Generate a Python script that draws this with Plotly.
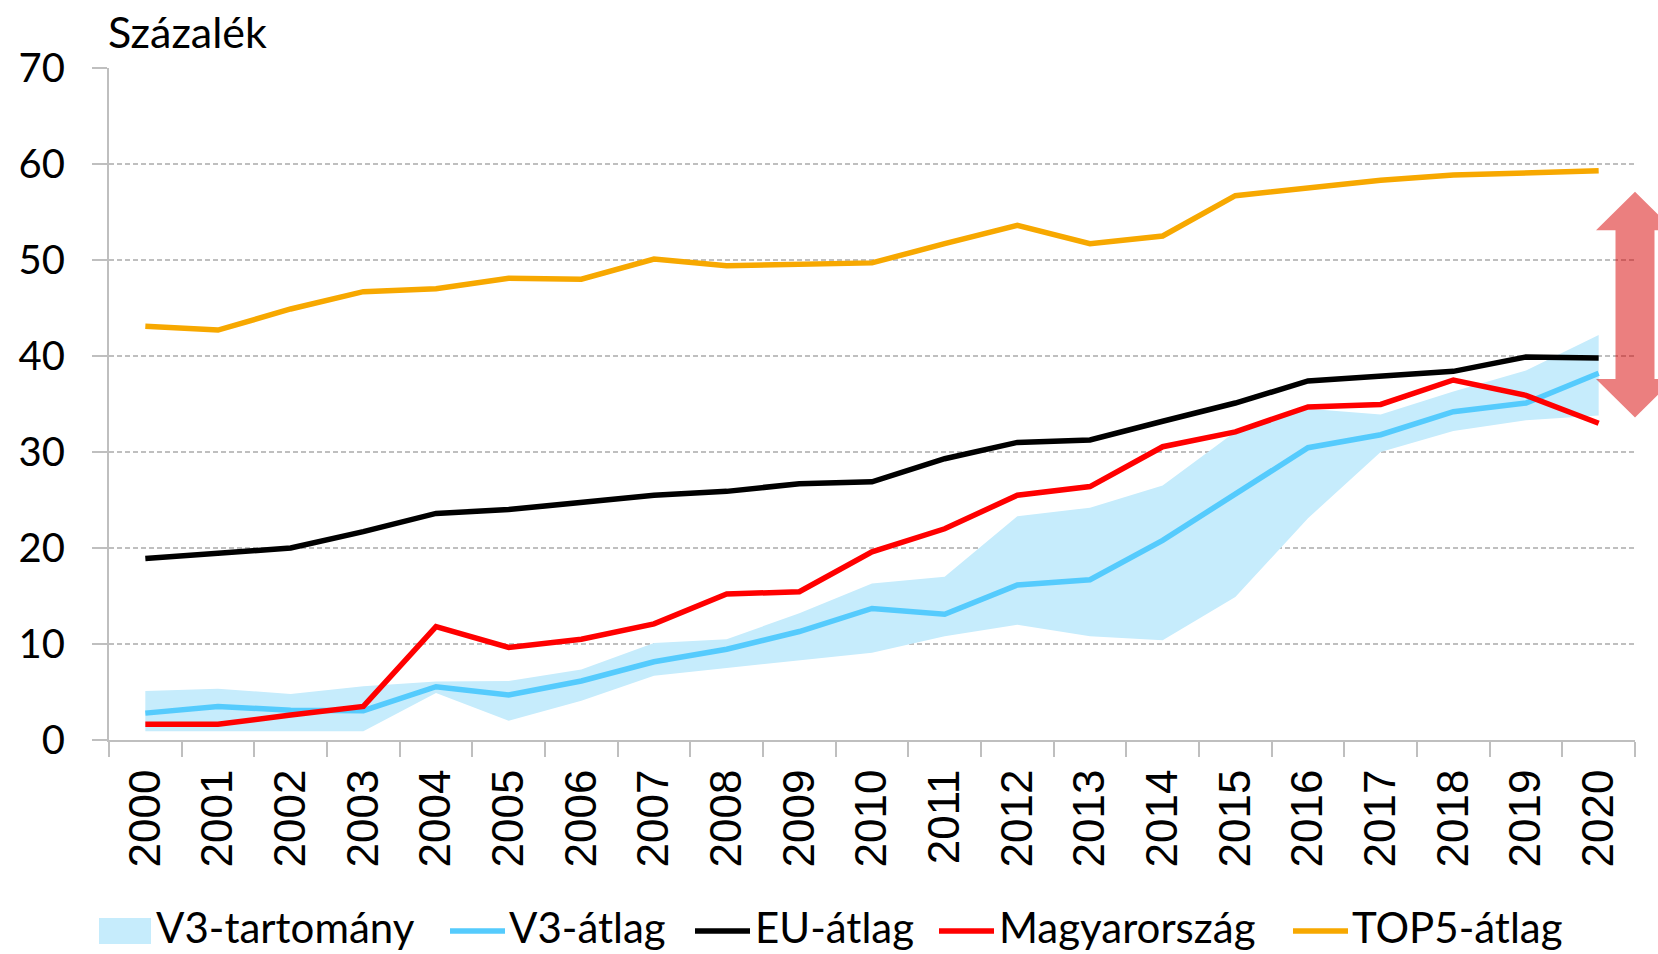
import plotly.graph_objects as go

# Years on the category axis
years = [str(y) for y in range(2000, 2021)]

# V3 range (lower / upper bound), percent
v3_low = [0.9, 0.9, 0.9, 0.9, 4.9, 2.0, 4.1, 6.7, 7.5, 8.3, 9.1, 10.8, 12.0, 10.8, 10.4,
          14.9, 23.1, 30.0, 32.2, 33.3, 33.8]
v3_high = [5.1, 5.35, 4.8, 5.6, 6.1, 6.15, 7.35, 10.1, 10.5, 13.2, 16.3, 17.0, 23.3, 24.2, 26.5,
           32.1, 34.5, 33.9, 36.3, 38.5, 42.2]

# Series, percent
v3_avg = [2.8, 3.5, 3.1, 3.05, 5.55, 4.7, 6.15, 8.15, 9.45, 11.3, 13.7, 13.1, 16.15, 16.7, 20.8,
          25.7, 30.45, 31.8, 34.2, 35.1, 38.2]
eu_avg = [18.9, 19.5, 20.0, 21.7, 23.6, 24.0, 24.7, 25.5, 25.9, 26.7, 26.9, 29.3, 31.0, 31.25, 33.2,
          35.1, 37.4, 37.85, 38.4, 39.9, 39.8]
hungary = [1.63, 1.63, 2.6, 3.5, 11.8, 9.65, 10.5, 12.1, 15.2, 15.45, 19.6, 22.0, 25.5, 26.4, 30.55,
           32.1, 34.7, 34.95, 37.5, 35.9, 33.0]
top5_avg = [43.1, 42.7, 44.9, 46.7, 47.0, 48.1, 48.0, 50.1, 49.4, 49.6, 49.7, 51.7, 53.6, 51.7, 52.5,
            56.7, 57.5, 58.3, 58.85, 59.1, 59.3]

# Gap arrow extent (value axis)
gap_top = 57.1
gap_bottom = 33.6

# Labels
unit_label = "Százalék"
legend_names = ["V3-tartomány", "V3-átlag", "EU-átlag", "Magyarország", "TOP5-átlag"]

BAND = "#C6ECFC"
BLUE = "#55CBFD"
BLACK = "#000000"
RED = "#FF0000"
ORANGE = "#F7A800"
GRID = "#BFBFBF"
FONT = "Lato"

W, H = 1658, 954
L, R, T, B = 109, 23, 68, 214
PW, PH = W - L - R, H - T - B


def px(x):
    return (x - L) / PW


def py(y):
    return (H - B - y) / PH


fig = go.Figure()

fig.add_trace(go.Scatter(x=years, y=v3_low, mode="lines", line=dict(width=0, color=BAND),
                         showlegend=False, hoverinfo="skip"))
fig.add_trace(go.Scatter(x=years, y=v3_high, mode="lines", line=dict(width=0, color=BAND),
                         fill="tonexty", fillcolor=BAND, name=legend_names[0], showlegend=False))

for vals, col, name in [(v3_avg, BLUE, legend_names[1]), (eu_avg, BLACK, legend_names[2]),
                        (hungary, RED, legend_names[3]), (top5_avg, ORANGE, legend_names[4])]:
    fig.add_trace(go.Scatter(x=years, y=vals, mode="lines", name=name, showlegend=False,
                             line=dict(color=col, width=5.5)))

# Double-headed arrow marking the gap at the right edge
ax_c = 1.0
hw_head = 39 / PW
hw_shaft = 19.5 / PW
head_h = 38.5 / PH * 70
arrow_path = (
    f"M {ax_c},{gap_top} "
    f"L {ax_c + hw_head},{gap_top - head_h} L {ax_c + hw_shaft},{gap_top - head_h} "
    f"L {ax_c + hw_shaft},{gap_bottom + head_h} L {ax_c + hw_head},{gap_bottom + head_h} "
    f"L {ax_c},{gap_bottom} "
    f"L {ax_c - hw_head},{gap_bottom + head_h} L {ax_c - hw_shaft},{gap_bottom + head_h} "
    f"L {ax_c - hw_shaft},{gap_top - head_h} L {ax_c - hw_head},{gap_top - head_h} Z"
)
shapes = [dict(type="path", xref="paper", yref="y", path=arrow_path,
               fillcolor="rgba(215,0,0,0.5)", line=dict(width=0), layer="above")]

# Legend drawn below the plot
legend_y = 931
shapes.append(dict(type="rect", xref="paper", yref="paper", x0=px(99), x1=px(151),
                   y0=py(944), y1=py(918), fillcolor=BAND, line=dict(width=0)))
line_items = [(450, BLUE), (695, BLACK), (939, RED), (1293, ORANGE)]
for x0, col in line_items:
    shapes.append(dict(type="line", xref="paper", yref="paper", x0=px(x0), x1=px(x0 + 55),
                       y0=py(legend_y), y1=py(legend_y), line=dict(color=col, width=5.5)))

annotations = [dict(text=unit_label, xref="paper", yref="paper", x=px(106), y=py(31),
                    xanchor="left", yanchor="middle", showarrow=False,
                    font=dict(family=FONT, size=43, color="#000"))]
text_x = [155, 508, 754, 998, 1351]
for tx, name in zip(text_x, legend_names):
    annotations.append(dict(text=name, xref="paper", yref="paper", x=px(tx), y=py(953),
                            xanchor="left", yanchor="bottom", showarrow=False, borderpad=0,
                            font=dict(family=FONT, size=42, color="#000")))

fig.update_layout(
    width=W, height=H,
    margin=dict(l=L, r=R, t=T, b=B),
    paper_bgcolor="white", plot_bgcolor="white",
    showlegend=False,
    shapes=shapes,
    annotations=annotations,
    xaxis=dict(type="category", range=[-0.5, 20.5], tickson="boundaries",
               ticks="outside", ticklen=15, tickwidth=2, tickcolor=GRID,
               showline=True, linecolor=GRID, linewidth=2, showgrid=False,
               tickangle=-90, ticklabelstandoff=10,
               tickfont=dict(family="Liberation Sans", size=44, color="#000")),
    yaxis=dict(range=[0, 70], dtick=10, tick0=0,
               ticks="outside", ticklen=15, tickwidth=2, tickcolor=GRID,
               showline=True, linecolor=GRID, linewidth=2,
               showgrid=True, gridcolor=GRID, gridwidth=1.5, griddash="5px,3px",
               zeroline=False, ticklabelstandoff=19,
               tickfont=dict(family=FONT, size=40, color="#000")),
)

fig.write_html("out.html")
